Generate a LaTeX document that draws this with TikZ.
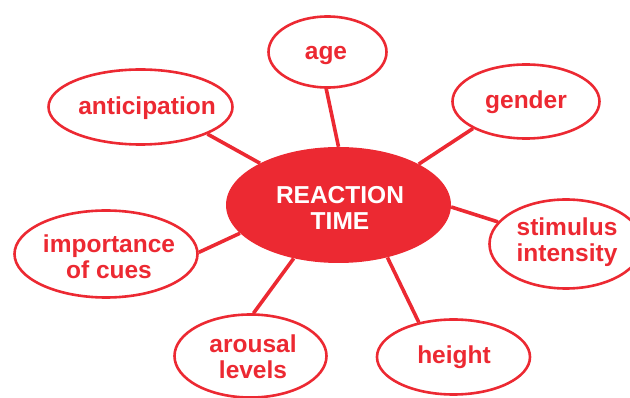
\documentclass[tikz,border=0pt]{standalone}
\usepackage{fontspec}
\setmainfont{Liberation Sans}
\usetikzlibrary{shapes.geometric}
\definecolor{rtred}{RGB}{236,41,50}
\begin{document}
\begin{tikzpicture}[x=1pt,y=-1pt,
  bubble/.style={ellipse, draw=rtred, line width=2.6pt, inner sep=0pt},
  hub/.style={ellipse, fill=rtred, inner sep=0pt},
  lbl/.style={text=rtred, font=\fontsize{24.5}{26}\selectfont\bfseries, align=center, inner sep=0pt},
  link/.style={draw=rtred, line width=3.6pt}]
\useasboundingbox (0,0) rectangle (630,398);
\clip (0,0) rectangle (630,398);
% ellipses
\node[hub, minimum width=225pt, minimum height=116pt] (rt) at (338.5,205) {};
\node[bubble, minimum width=184pt, minimum height=75pt] (ant) at (140.5,107) {};
\node[bubble, minimum width=118pt, minimum height=71pt] (age) at (327.5,52) {};
\node[bubble, minimum width=147pt, minimum height=74pt] (gen) at (526,101.5) {};
\node[bubble, minimum width=183pt, minimum height=87pt] (imp) at (106,254) {};
\node[bubble, minimum width=153pt, minimum height=89pt] (stim) at (566,244) {};
\node[bubble, minimum width=152pt, minimum height=83pt] (aro) at (250.5,356) {};
\node[bubble, minimum width=153pt, minimum height=75pt] (hgt) at (453.5,357) {};
% connectors
\draw[link] (rt.152) -- (ant.-22);
\draw[link] (rt.90) -- (age.-92);
\draw[link] (rt.27) -- (gen.207);
\draw[link] (rt.-1) -- (stim.162);
\draw[link] (rt.-47) -- (hgt.135);
\draw[link] (rt.230) -- (aro.86);
\draw[link] (rt.196) -- (imp.1);
% labels
\node[lbl, text=white] (rttxt) at (340,207.5) {REACTION\\TIME};
\node[lbl, anchor=base] (anttxt) at (147,115) {anticipation};
\node[lbl, anchor=base] (agetxt) at (326,60) {age};
\node[lbl, anchor=base] (gentxt) at (526,109) {gender};
\node[lbl] (imptxt) at (109,256.5) {importance\\of cues};
\node[lbl] (stimtxt) at (567,242) {stimulus\\intensity};
\node[lbl] (arotxt) at (253,356.5) {arousal\\levels};
\node[lbl, anchor=base] (hgttxt) at (454,364) {height};
\end{tikzpicture}
\end{document}
